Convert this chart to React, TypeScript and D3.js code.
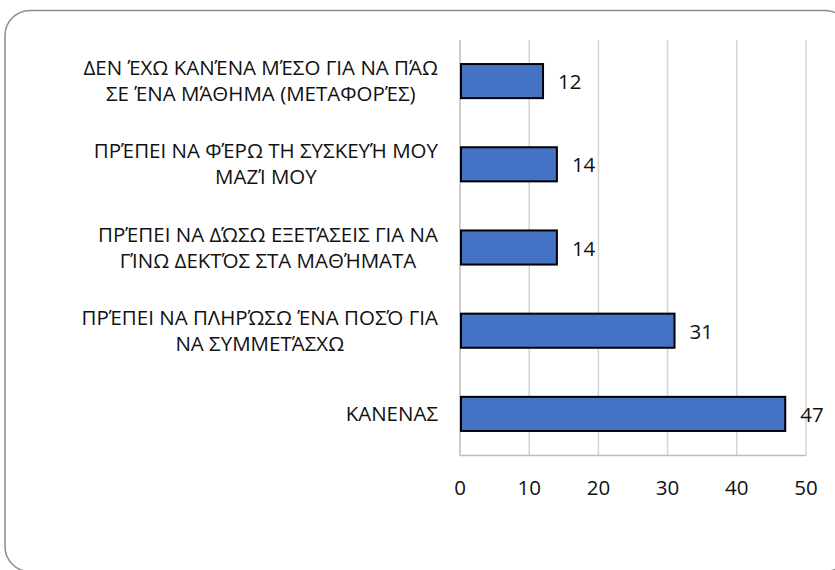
import { useEffect, useRef } from "react";
import * as d3 from "d3";

const categories: string[][] = [
  ["ΔΕΝ ΈΧΩ ΚΑΝΈΝΑ ΜΈΣΟ ΓΙΑ ΝΑ ΠΆΩ", "ΣΕ ΈΝΑ ΜΆΘΗΜΑ (ΜΕΤΑΦΟΡΈΣ)"],
  ["ΠΡΈΠΕΙ ΝΑ ΦΈΡΩ ΤΗ ΣΥΣΚΕΥΉ ΜΟΥ", "ΜΑΖΊ ΜΟΥ"],
  ["ΠΡΈΠΕΙ ΝΑ ΔΏΣΩ ΕΞΕΤΆΣΕΙΣ ΓΙΑ ΝΑ", "ΓΊΝΩ ΔΕΚΤΌΣ ΣΤΑ ΜΑΘΉΜΑΤΑ"],
  ["ΠΡΈΠΕΙ ΝΑ ΠΛΗΡΏΣΩ ΈΝΑ ΠΟΣΌ ΓΙΑ", "ΝΑ ΣΥΜΜΕΤΆΣΧΩ"],
  ["ΚΑΝΕΝΑΣ"],
];
const values = [12, 14, 14, 31, 47];
const ticks = [0, 10, 20, 30, 40, 50];

const W = 835;
const H = 570;
const font = "'Open Sans', 'Noto Sans', sans-serif";

export default function App() {
  const ref = useRef<SVGSVGElement>(null);

  useEffect(() => {
    const svg = d3.select(ref.current);
    svg.selectAll("*").remove();

    const x = d3.scaleLinear([0, 50], [460, 806]);
    const y = d3
      .scaleBand<number>()
      .domain(d3.range(values.length))
      .range([39.5, 455.5])
      .paddingInner(0.59)
      .paddingOuter(0.295);

    // frame
    svg
      .append("rect")
      .attr("x", 5)
      .attr("y", 10.5)
      .attr("width", 845)
      .attr("height", 561)
      .attr("rx", 25)
      .attr("fill", "#fff")
      .attr("stroke", "#8c8c8c")
      .attr("stroke-width", 1.5);

    // grid
    svg
      .append("g")
      .selectAll("line")
      .data(ticks.slice(1))
      .join("line")
      .attr("x1", (d) => x(d))
      .attr("x2", (d) => x(d))
      .attr("y1", 40)
      .attr("y2", 455.5)
      .attr("stroke", "#d4d4d4")
      .attr("stroke-width", 1.5);

    svg
      .append("line")
      .attr("x1", x(0))
      .attr("x2", x(50))
      .attr("y1", 455.5)
      .attr("y2", 455.5)
      .attr("stroke", "#bdbdbd")
      .attr("stroke-width", 1.5);
    svg
      .append("line")
      .attr("x1", x(0))
      .attr("x2", x(0))
      .attr("y1", 40)
      .attr("y2", 456)
      .attr("stroke", "#bdbdbd")
      .attr("stroke-width", 1.5);

    // bars
    svg
      .append("g")
      .selectAll("rect")
      .data(values)
      .join("rect")
      .attr("x", x(0) + 1)
      .attr("y", (_, i) => y(i)!)
      .attr("width", (d) => x(d) - x(0) - 1)
      .attr("height", y.bandwidth())
      .attr("fill", "#4472C4")
      .attr("stroke", "#000")
      .attr("stroke-width", 2);

    // value labels
    svg
      .append("g")
      .selectAll("text")
      .data(values)
      .join("text")
      .attr("x", (d) => x(d) + 15)
      .attr("y", (_, i) => y(i)! + y.bandwidth() / 2 + 8)
      .attr("font-family", font)
      .attr("font-size", 20.5)
      .attr("fill", "#111")
      .text((d) => d);

    // tick labels
    svg
      .append("g")
      .selectAll("text")
      .data(ticks)
      .join("text")
      .attr("x", (d) => x(d))
      .attr("y", 495)
      .attr("text-anchor", "middle")
      .attr("font-family", font)
      .attr("font-size", 20.5)
      .attr("fill", "#111")
      .text((d) => d);

    // category labels: lines centred on each other, block right-aligned
    const right = 438;
    const lineH = 26;
    categories.forEach((lines, i) => {
      const g = svg.append("g");
      const cy = y(i)! + y.bandwidth() / 2;
      const texts = g
        .selectAll("text")
        .data(lines)
        .join("text")
        .attr("y", (_, j) => cy + 7 + (j - (lines.length - 1) / 2) * lineH)
        .attr("text-anchor", "middle")
        .attr("font-family", font)
        .attr("font-size", 20.5)
        .attr("fill", "#111")
        .text((d) => d);
      let maxW = 0;
      texts.each(function () {
        maxW = Math.max(maxW, (this as SVGTextElement).getComputedTextLength());
      });
      texts.attr("x", right - maxW / 2);
    });
  }, []);

  return (
    <svg
      ref={ref}
      width={W}
      height={H}
      style={{ position: "absolute", left: 0, top: 0, background: "#fff" }}
    />
  );
}
